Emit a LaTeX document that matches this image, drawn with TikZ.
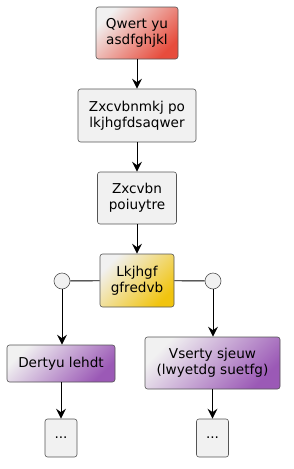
\documentclass[tikz,border=0pt]{standalone}
\usepackage{fontspec}
\setmainfont{DejaVu Sans}
\usetikzlibrary{arrows.meta}
\definecolor{boxfill}{HTML}{F1F1F1}
\definecolor{boxdraw}{HTML}{555555}
\definecolor{redc}{HTML}{E74C3C}
\definecolor{goldc}{HTML}{F1C40F}
\definecolor{purc}{HTML}{9B59B6}
\tikzset{
  box/.style={draw=boxdraw, line width=0.6pt, rounded corners=2.5pt, fill=boxfill,
    align=center, inner sep=0pt, font=\fontsize{13.6}{16}\selectfont},
  grad/.style={box, shading=axis, top color=boxfill, bottom color=#1, shading angle=45},
  junc/.style={circle, draw=boxdraw, line width=0.6pt, fill=boxfill, minimum size=16pt, inner sep=0pt},
  conn/.style={line width=0.9pt, -{Stealth[length=10pt,width=10pt,inset=3.5pt]}},
  plain/.style={line width=0.9pt}
}
\begin{document}
\begin{tikzpicture}[x=1pt,y=-1pt]
\useasboundingbox (0,0) rectangle (293,469);
\node[grad=redc, minimum width=82pt, minimum height=52pt] (a) at (137,33) {Qwert yu\\asdfghjkl};
\node[box, minimum width=118pt, minimum height=53pt] (b) at (137,115.5) {Zxcvbnmkj po\\lkjhgfdsaqwer};
\node[box, minimum width=79pt, minimum height=52pt] (c) at (137,198) {Zxcvbn\\poiuytre};
\node[grad=goldc, minimum width=74pt, minimum height=53pt] (d) at (137,280.5) {Lkjhgf\\gfredvb};
\node[junc] (jl) at (62,281) {};
\node[junc] (jr) at (213,281) {};
\node[grad=purc, minimum width=108pt, minimum height=37pt] (e) at (61,363.5) {Dertyu lehdt};
\node[grad=purc, minimum width=135pt, minimum height=52pt] (f) at (212.5,363) {Vserty sjeuw\\(lwyetdg suetfg)};
\node[box, minimum width=32pt, minimum height=38pt] (g) at (61,438) {...};
\node[box, minimum width=32pt, minimum height=38pt] (h) at (212.5,438) {...};
\draw[conn] (a) -- (b);
\draw[conn] (b) -- (c);
\draw[conn] (c) -- (d);
\draw[plain] (d) -- (jl);
\draw[plain] (d) -- (jr);
\draw[conn] (jl) -- (jl |- e.north);
\draw[conn] (jr) -- (jr |- f.north);
\draw[conn] (e) -- (g);
\draw[conn] (f) -- (h);
\end{tikzpicture}
\end{document}
